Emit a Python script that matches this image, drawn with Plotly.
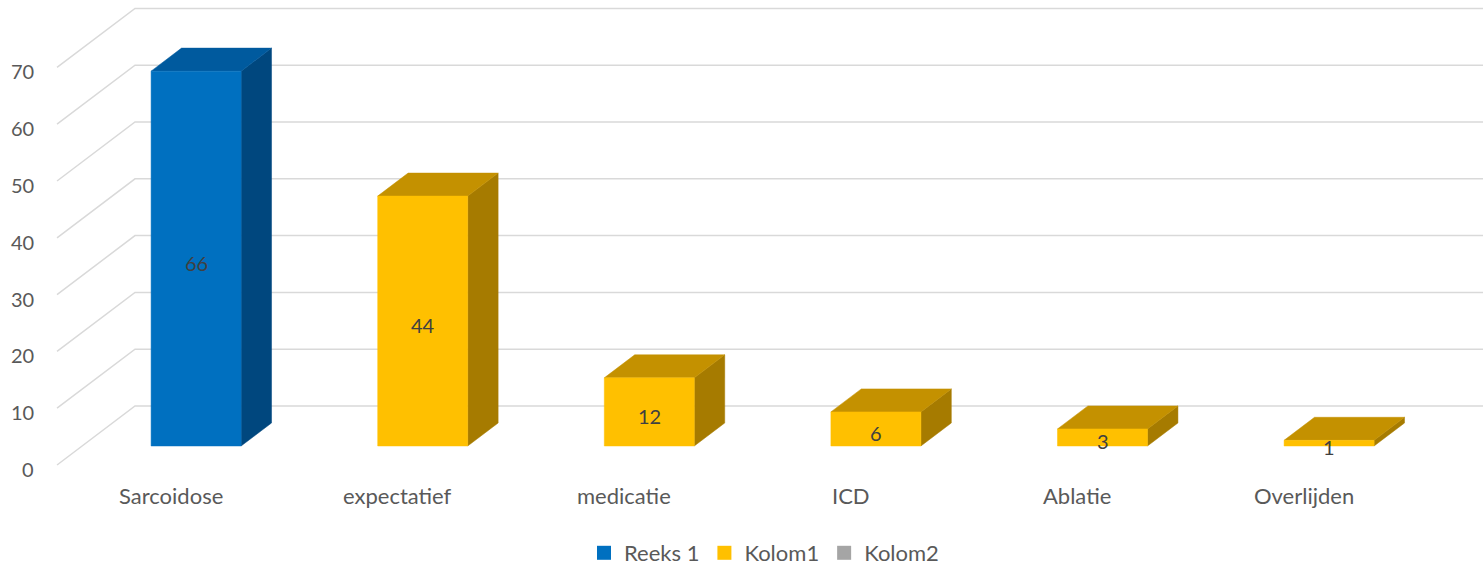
import plotly.graph_objects as go

# Chart data
categories = ["Sarcoidose", "expectatief", "medicatie", "ICD", "Ablatie", "Overlijden"]
reeks1 = [66, None, None, None, None, None]
kolom1 = [None, 44, 12, 6, 3, 1]
kolom2 = [None, None, None, None, None, None]
y_ticks = [0, 10, 20, 30, 40, 50, 60, 70]

# Oblique projection of the 3D box: depth 0 = front of floor, 1 = back wall
DX = 0.3442      # horizontal shift of full depth (category units)
DY = 10.39       # vertical shift of full depth (value units)
BAR_FRONT = 0.322
BAR_BACK = 0.712
HALF_W = 0.1986
GRID_X0 = -0.503
X_RANGE = [-0.7546, 5.790]
Y_RANGE = [-17.61, 81.87]

FONT = "Lato"
TEXT_GRAY = "#595959"

series_styles = [
    ("Reeks 1", reeks1, "#0070C0", "#005A9E", "#00477E"),
    ("Kolom1", kolom1, "#FFC000", "#C49100", "#A67B00"),
    ("Kolom2", kolom2, "#A5A5A5", "#858585", "#6E6E6E"),
]


def proj(x, v, d):
    return x + d * DX, v + d * DY


fig = go.Figure()

# Gridlines: diagonal on the side wall, then horizontal along the back wall
for t in y_ticks:
    xa, ya = proj(GRID_X0, t, 0)
    xb, yb = proj(GRID_X0, t, 1)
    fig.add_trace(go.Scatter(
        x=[xa, xb, X_RANGE[1] + 1], y=[ya, yb, yb], mode="lines",
        line=dict(color="#D9D9D9", width=1.5), hoverinfo="skip", showlegend=False,
    ))


def face(pts, color):
    xs = [p[0] for p in pts] + [pts[0][0]]
    ys = [p[1] for p in pts] + [pts[0][1]]
    fig.add_trace(go.Scatter(
        x=xs, y=ys, mode="lines", fill="toself", fillcolor=color,
        line=dict(color=color, width=0.5), hoverinfo="skip", showlegend=False,
    ))


annotations = []
for name, values, c_front, c_top, c_side in series_styles:
    for i, v in enumerate(values):
        if v is None:
            continue
        x0, x1 = i - HALF_W, i + HALF_W
        # right side face
        face([proj(x1, 0, BAR_FRONT), proj(x1, 0, BAR_BACK),
              proj(x1, v, BAR_BACK), proj(x1, v, BAR_FRONT)], c_side)
        # top face
        face([proj(x0, v, BAR_FRONT), proj(x0, v, BAR_BACK),
              proj(x1, v, BAR_BACK), proj(x1, v, BAR_FRONT)], c_top)
        # front face
        face([proj(x0, 0, BAR_FRONT), proj(x1, 0, BAR_FRONT),
              proj(x1, v, BAR_FRONT), proj(x0, v, BAR_FRONT)], c_front)
        lx, ly = proj(i, v / 2, BAR_FRONT)
        annotations.append(dict(
            x=lx, y=ly, text=str(v), showarrow=False, yshift=-4,
            font=dict(family=FONT, size=20, color="#404040"),
        ))

# Legend entries
for name, values, c_front, c_top, c_side in series_styles:
    fig.add_trace(go.Scatter(
        x=[None], y=[None], mode="markers", name=name,
        marker=dict(symbol="square", size=14, color=c_front),
    ))

# Value axis labels
for t in y_ticks:
    annotations.append(dict(
        x=-0.596, y=t, text=str(t), showarrow=False, xanchor="right", yshift=-4,
        font=dict(family=FONT, size=20, color=TEXT_GRAY),
    ))

# Category labels
for i, c in enumerate(categories):
    annotations.append(dict(
        x=i, y=-5.46, text=c, showarrow=False,
        font=dict(family=FONT, size=22, color=TEXT_GRAY),
    ))

fig.update_layout(
    width=1483, height=565,
    margin=dict(l=0, r=0, t=0, b=0, autoexpand=False),
    paper_bgcolor="white", plot_bgcolor="white",
    xaxis=dict(range=X_RANGE, visible=False, fixedrange=True),
    yaxis=dict(range=Y_RANGE, visible=False, fixedrange=True),
    annotations=annotations,
    showlegend=True,
    legend=dict(
        orientation="h", x=764 / 1483, xanchor="center", y=1 - 553 / 565, yanchor="middle",
        font=dict(family=FONT, size=22, color=TEXT_GRAY),
        bgcolor="rgba(0,0,0,0)", itemwidth=30,
    ),
)

fig.write_html("out.html")
